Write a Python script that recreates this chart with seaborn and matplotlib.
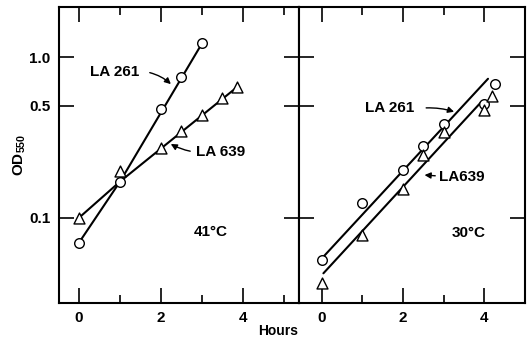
import numpy as np
import pandas as pd
import matplotlib
matplotlib.use("Agg")
import matplotlib.pyplot as plt
import seaborn as sns

# 41 C panel
hot_la261_t = [0, 1, 2, 2.5, 3]
hot_la261_od = [0.070, 0.168, 0.474, 0.754, 1.22]
hot_la639_t = [0, 1, 2, 2.5, 3, 3.5, 3.85]
hot_la639_od = [0.100, 0.196, 0.273, 0.349, 0.437, 0.56, 0.65]
# drawn lines (hand fitted in the original)
hot_la261_line_t = [0, 1, 3]
hot_la261_line_od = [0.070, 0.168, 1.22]
hot_la639_line_t = [0, 1, 3.85]
hot_la639_line_od = [0.100, 0.168, 0.65]

# 30 C panel
cold_la261_t = [0, 1, 2, 2.5, 3, 4, 4.25]
cold_la261_od = [0.0545, 0.123, 0.198, 0.281, 0.384, 0.509, 0.682]
cold_la639_t = [0, 1, 2, 2.5, 3, 4, 4.2]
cold_la639_od = [0.039, 0.078, 0.151, 0.246, 0.344, 0.469, 0.576]
cold_la261_line_t = [0.04, 4.09]
cold_la261_line_od = [0.0571, 0.735]
cold_la639_line_t = [0.04, 3.93]
cold_la639_line_od = [0.045, 0.529]

y_ticks = [0.1, 0.5, 1.0]
y_labels = ["0.1", "0.5", "1.0"]
x_ticks = [0, 2, 4]

sns.set_style("ticks")
plt.rcParams["font.family"] = ["Liberation Sans", "DejaVu Sans"]
plt.rcParams["font.weight"] = "bold"
plt.rcParams["mathtext.default"] = "regular"
for k in ["text.color", "axes.labelcolor", "xtick.color", "ytick.color", "axes.edgecolor"]:
    plt.rcParams[k] = "black"

fig = plt.figure(figsize=(5.27, 3.38), dpi=100)
ax1 = fig.add_axes([0.112, 0.1044, 0.4554, 0.8749])
ax2 = fig.add_axes([0.5674, 0.1044, 0.4288, 0.8749])


def draw_panel(ax, lines, circles, triangles, xlim):
    for lt, lo in lines:
        sns.lineplot(x=lt, y=lo, ax=ax, color="black", lw=1.5, sort=False,
                     estimator=None, zorder=2)
    sns.scatterplot(x=circles[0], y=circles[1], ax=ax, marker="o", s=48,
                    facecolor="white", edgecolor="black", linewidth=1.0, zorder=3)
    sns.scatterplot(x=triangles[0], y=triangles[1], ax=ax, marker="^", s=62,
                    facecolor="white", edgecolor="black", linewidth=1.0, zorder=3)
    ax.set_yscale("log")
    ax.set_ylim(0.0295, 2.06)
    ax.set_xlim(*xlim)
    ax.set_xticks(x_ticks)
    ax.set_xticks([1, 3, 5], minor=True)
    ax.set_yticks(y_ticks)
    ax.set_yticks([], minor=True)
    ax.tick_params(which="major", direction="in", length=11, width=1.2,
                   top=True, right=True, labelsize=11, pad=6)
    ax.tick_params(which="minor", direction="in", length=5.5, width=1.2,
                   top=True, right=True)
    for s in ax.spines.values():
        s.set_linewidth(1.5)
        s.set_visible(True)
    ax.set_xlabel("")
    ax.set_ylabel("")


draw_panel(ax1,
           [(hot_la261_line_t, hot_la261_line_od), (hot_la639_line_t, hot_la639_line_od)],
           (hot_la261_t, hot_la261_od), (hot_la639_t, hot_la639_od), (-0.49, 5.37))
draw_panel(ax2,
           [(cold_la261_line_t, cold_la261_line_od), (cold_la639_line_t, cold_la639_line_od)],
           (cold_la261_t, cold_la261_od), (cold_la639_t, cold_la639_od), (-0.56, 5.0))

ax1.set_yticklabels(y_labels)
ax2.set_yticklabels([])

arrow = dict(arrowstyle="-|>", color="black", lw=1.0, mutation_scale=9)

# left panel labels
ax1.text(0.27, 0.81, "LA 261", fontsize=11, fontweight="bold", va="center")
ax1.annotate("", xy=(2.29, 0.662), xytext=(1.66, 0.81),
             arrowprops=dict(arrow, connectionstyle="arc3,rad=-0.15"))
ax1.text(2.85, 0.258, "LA 639", fontsize=11, fontweight="bold", va="center")
ax1.annotate("", xy=(2.18, 0.294), xytext=(2.78, 0.258),
             arrowprops=dict(arrow, connectionstyle="arc3,rad=-0.1"))
ax1.text(3.22, 0.082, "41°C", fontsize=11, fontweight="bold", ha="center", va="center")

# right panel labels
ax2.text(1.06, 0.483, "LA 261", fontsize=11, fontweight="bold", va="center")
ax2.annotate("", xy=(3.32, 0.452), xytext=(2.5, 0.483),
             arrowprops=dict(arrow, connectionstyle="arc3,rad=-0.1"))
ax2.text(2.88, 0.180, "LA639", fontsize=11, fontweight="bold", va="center")
ax2.annotate("", xy=(2.46, 0.185), xytext=(2.86, 0.182),
             arrowprops=arrow)
ax2.text(3.62, 0.080, "30°C", fontsize=11, fontweight="bold", ha="center", va="center")

fig.text(0.038, 0.541, "OD$_{550}$", rotation=90, fontsize=11, fontweight="bold",
         ha="center", va="center")
fig.text(0.527, 0.021, "Hours", fontsize=10, fontweight="bold", ha="center", va="center")

fig.savefig("out.png", dpi=100)
